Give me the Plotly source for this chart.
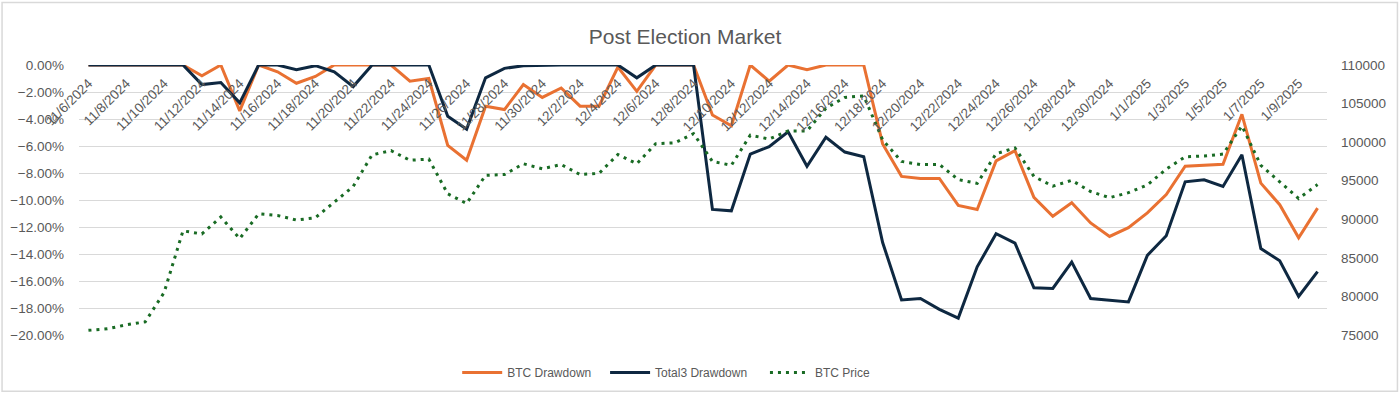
import plotly.graph_objects as go

dates = ["11/6/2024", "11/7/2024", "11/8/2024", "11/9/2024", "11/10/2024", "11/11/2024",
         "11/12/2024", "11/13/2024", "11/14/2024", "11/15/2024", "11/16/2024", "11/17/2024",
         "11/18/2024", "11/19/2024", "11/20/2024", "11/21/2024", "11/22/2024", "11/23/2024",
         "11/24/2024", "11/25/2024", "11/26/2024", "11/27/2024", "11/28/2024", "11/29/2024",
         "11/30/2024", "12/1/2024", "12/2/2024", "12/3/2024", "12/4/2024", "12/5/2024",
         "12/6/2024", "12/7/2024", "12/8/2024", "12/9/2024", "12/10/2024", "12/11/2024",
         "12/12/2024", "12/13/2024", "12/14/2024", "12/15/2024", "12/16/2024", "12/17/2024",
         "12/18/2024", "12/19/2024", "12/20/2024", "12/21/2024", "12/22/2024", "12/23/2024",
         "12/24/2024", "12/25/2024", "12/26/2024", "12/27/2024", "12/28/2024", "12/29/2024",
         "12/30/2024", "12/31/2024", "1/1/2025", "1/2/2025", "1/3/2025", "1/4/2025",
         "1/5/2025", "1/6/2025", "1/7/2025", "1/8/2025", "1/9/2025", "1/10/2025"]

btc_drawdown = [0.0, 0.0, 0.0, 0.0, 0.0, 0.0,
                -0.8, 0.0, -3.4, 0.0, -0.5, -1.35,
                -0.85, 0.0, 0.0, 0.0, 0.0, -1.2,
                -1.0, -5.95, -7.05, -3.05, -3.3, -1.45,
                -2.4, -1.7, -3.05, -3.05, -0.15, -1.95,
                0.0, 0.0, 0.0, -3.7, -4.5, 0.0,
                -1.2, 0.0, -0.35, 0.0, 0.0, 0.0,
                -5.85, -8.25, -8.4, -8.4, -10.4, -10.7,
                -7.1, -6.35, -9.8, -11.2, -10.2, -11.7,
                -12.7, -12.05, -10.95, -9.6, -7.5, -7.45,
                -7.35, -3.65, -8.75, -10.35, -12.8, -10.6]

total3_drawdown = [0.0, 0.0, 0.0, 0.0, 0.0, 0.0,
                   -1.45, -1.3, -2.8, 0.0, 0.0, -0.35,
                   -0.05, -0.5, -1.6, 0.0, 0.0, 0.0,
                   0.0, -3.8, -4.75, -0.95, -0.25, -0.05,
                   0.0, 0.0, 0.0, 0.0, 0.0, -0.95,
                   0.0, 0.0, 0.0, -10.7, -10.8, -6.6,
                   -6.05, -4.95, -7.5, -5.35, -6.45, -6.8,
                   -13.15, -17.4, -17.3, -18.1, -18.75, -14.95,
                   -12.5, -13.2, -16.5, -16.55, -14.6, -17.3,
                   -17.45, -17.55, -14.1, -12.65, -8.65, -8.5,
                   -9.0, -6.65, -13.6, -14.5, -17.15, -15.3]

btc_price = [75600, 75800, 76320, 76700, 80500, 88500,
             88100, 90300, 87500, 90700, 90500, 89900,
             90200, 92250, 94250, 98350, 98900, 97650,
             97800, 93300, 92050, 95700, 95800, 97200,
             96550, 97100, 95800, 95950, 98400, 97200,
             99800, 99900, 101100, 97500, 97000, 100900,
             100400, 101450, 101450, 104400, 105800, 106000,
             100300, 97500, 97100, 97100, 95150, 94650,
             98500, 99250, 95550, 94300, 95050, 93600,
             92800, 93450, 94450, 96500, 98100, 98200,
             98450, 102100, 97000, 94850, 92700, 94500]

left_ticks = [0, -2, -4, -6, -8, -10, -12, -14, -16, -18, -20]
right_ticks = [75000, 80000, 85000, 90000, 95000, 100000, 105000, 110000]

ORANGE = "#E97132"
NAVY = "#0E2841"
GREEN = "#196B24"
TEXT = "#595959"
GRID = "#D9D9D9"
FONT = "Liberation Sans"

W, H = 1400, 399
L, R, T, B = 78.5, 72.5, 65, 60

pw = W - L - R
ph = H - T - B
def px(x):
    return (x - L) / pw
def py(y):
    return (H - B - y) / ph

fig = go.Figure()
fig.add_trace(go.Scatter(x=dates, y=[v / 100 for v in btc_drawdown], name="BTC Drawdown",
                         mode="lines", line=dict(color=ORANGE, width=3), legend="legend"))
fig.add_trace(go.Scatter(x=dates, y=[v / 100 for v in total3_drawdown], name="Total3 Drawdown",
                         mode="lines", line=dict(color=NAVY, width=3), legend="legend2"))
fig.add_trace(go.Scatter(x=dates, y=btc_price, name="BTC Price", yaxis="y2",
                         mode="lines", line=dict(color=GREEN, width=3, dash="3px,5px"),
                         legend="legend3"))

leg_common = dict(orientation="h", xanchor="left", y=py(377), yanchor="middle",
                  font=dict(size=12, color=TEXT, family=FONT), itemwidth=40,
                  bgcolor="rgba(0,0,0,0)")

fig.update_layout(
    width=W, height=H,
    margin=dict(l=L, r=R, t=T, b=B, pad=0),
    paper_bgcolor="white", plot_bgcolor="white",
    font=dict(family=FONT, color=TEXT, size=12),
    title=dict(text="Post Election Market", x=685 / W, xref="container", xanchor="center",
               y=1 - 37 / H, yref="container", yanchor="middle",
               font=dict(size=21, color=TEXT, family=FONT)),
    showlegend=True,
    legend=dict(x=px(457), **leg_common),
    legend2=dict(x=px(605), **leg_common),
    legend3=dict(x=px(765), **leg_common),
    xaxis=dict(type="category", range=[-0.5, len(dates) - 0.5], tickmode="array",
               tickvals=dates[::2], ticktext=dates[::2], tickangle=-45,
               anchor="free", position=1, side="bottom", showgrid=False,
               showline=False, ticks="", automargin=False, ticklabelstandoff=7,
               tickfont=dict(size=13.5, color=TEXT, family=FONT)),
    yaxis=dict(range=[-0.20, 0], tickvals=[v / 100 for v in left_ticks], tickformat=".2%",
               showgrid=True, gridcolor=GRID, gridwidth=1.3, zeroline=False, showline=False,
               ticks="", automargin=False, ticklabelstandoff=14,
               tickfont=dict(size=13.5, color=TEXT, family=FONT)),
    yaxis2=dict(range=[75000, 110000], tickvals=right_ticks, tickformat="d",
                overlaying="y", side="right", showgrid=False, zeroline=False,
                showline=False, ticks="", automargin=False, ticklabelstandoff=13,
                tickfont=dict(size=13.5, color=TEXT, family=FONT)),
    shapes=[dict(type="rect", xref="paper", yref="paper",
                 x0=px(1.5), x1=px(1398), y0=py(396), y1=py(1.5),
                 line=dict(color=GRID, width=1.5), fillcolor="rgba(0,0,0,0)", layer="below")],
)

fig.write_html("out.html", config={"displayModeBar": False},
               post_script="document.body.style.margin='0';document.body.style.overflow='hidden';")
